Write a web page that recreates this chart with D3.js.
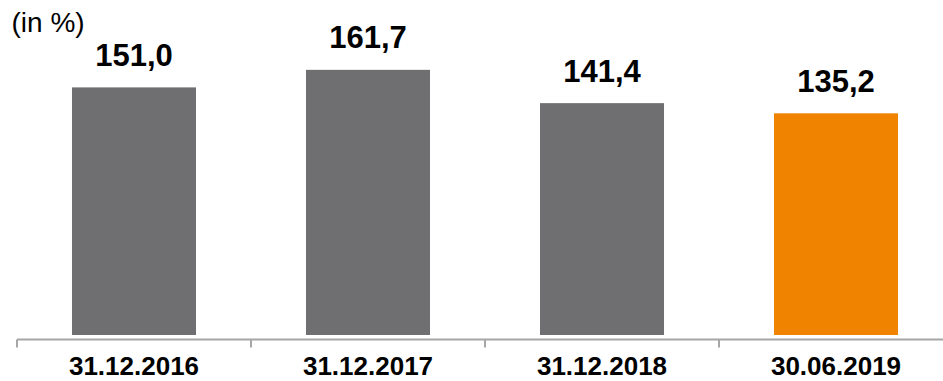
<!DOCTYPE html>
<html><head><meta charset="utf-8">
<script src="https://cdn.jsdelivr.net/npm/d3@7"></script>
<style>body{margin:0;background:#fff}svg{display:block}</style>
</head><body>
<script>
const categories = ["31.12.2016","31.12.2017","31.12.2018","30.06.2019"];
const values = [151.0, 161.7, 141.4, 135.2];
const valueLabels = ["151,0","161,7","141,4","135,2"];
const barColors = ["#6f6f71","#6f6f71","#6f6f71","#f08300"];
const unitLabel = "(in %)";

const W = 943, H = 381;
const svg = d3.select("body").append("svg").attr("width", W).attr("height", H);
const font = "Liberation Sans, Arial, sans-serif";

const x = d3.scaleBand().domain(categories).range([17, 953]).paddingInner(0.47).paddingOuter(0.235);
const y = d3.scaleLinear().domain([0, 204.3]).range([335, 0]);

svg.selectAll("rect.bar").data(values).enter().append("rect")
  .attr("x", (d,i) => x(categories[i]))
  .attr("width", x.bandwidth())
  .attr("y", d => y(d))
  .attr("height", d => y(0) - y(d))
  .attr("fill", (d,i) => barColors[i]);

svg.selectAll("text.val").data(values).enter().append("text")
  .attr("x", (d,i) => x(categories[i]) + x.bandwidth()/2)
  .attr("y", d => y(d) - 21.5)
  .attr("text-anchor", "middle")
  .attr("font-family", font).attr("font-weight", "bold").attr("font-size", 31)
  .attr("fill", "#000")
  .text((d,i) => valueLabels[i]);

// axis
const xa = d3.scaleBand().domain(categories).range([17, 953]);
const axisG = svg.append("g").attr("transform", "translate(0,339.5)");
axisG.append("line").attr("x1", 17).attr("x2", W).attr("y1", 0).attr("y2", 0)
  .attr("stroke", "#a6a6a6").attr("stroke-width", 2);
const tickPos = categories.map(c => xa(c));
axisG.selectAll("line.tick").data(tickPos).enter().append("line")
  .attr("x1", d => d).attr("x2", d => d).attr("y1", 0).attr("y2", 8)
  .attr("stroke", "#a6a6a6").attr("stroke-width", 2);
axisG.selectAll("text.cat").data(categories).enter().append("text")
  .attr("x", d => xa(d) + xa.bandwidth()/2)
  .attr("y", 35.5)
  .attr("text-anchor", "middle")
  .attr("font-family", font).attr("font-weight", "bold").attr("font-size", 26)
  .attr("fill", "#000")
  .text(d => d);

svg.append("text").attr("x", 11.5).attr("y", 31.5)
  .attr("font-family", font).attr("font-size", 28)
  .attr("fill", "#000").text(unitLabel);
</script>
</body></html>
